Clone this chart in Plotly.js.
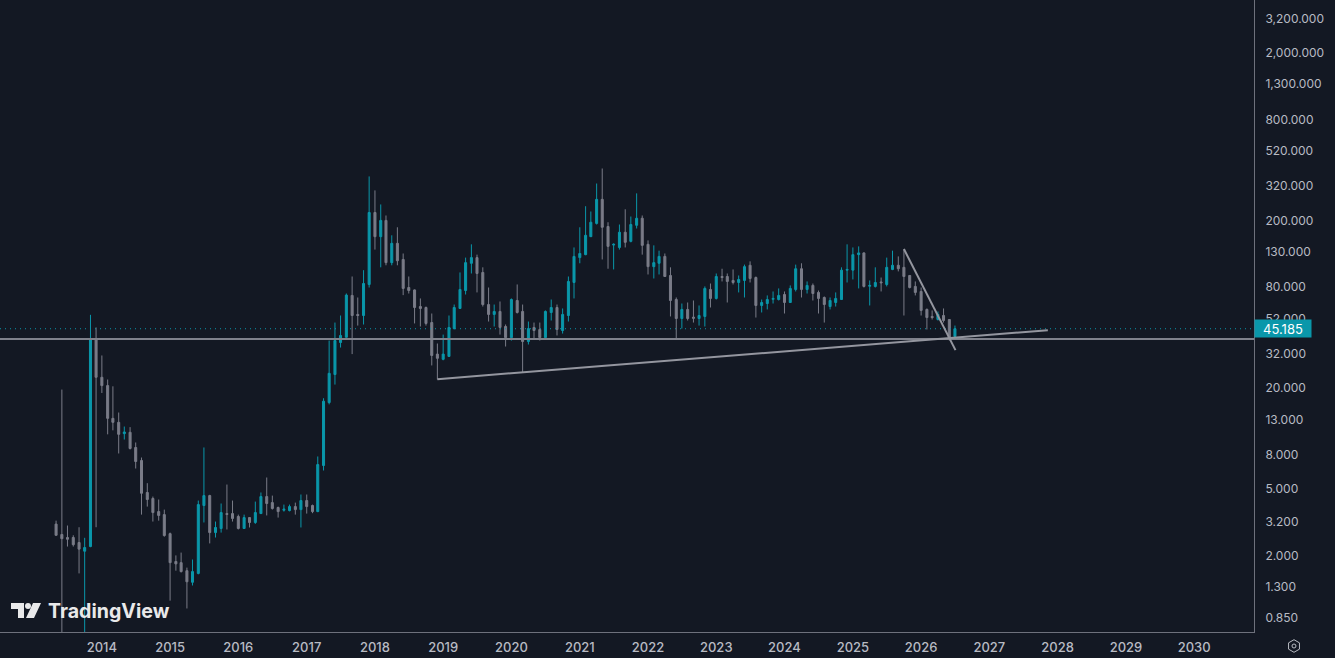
<!DOCTYPE html>
<html>
<head>
<meta charset="utf-8">
<script src="https://cdn.plot.ly/plotly-3.0.1.min.js"></script>
<style>html,body{margin:0;padding:0;background:#131823;overflow:hidden}#chart{width:1335px;height:658px}</style>
</head>
<body>
<div id="chart"></div>
<script>
// Monthly candles, May 2013 .. Jul 2026
const firstYear = 2013, firstMonth = 5;
const opens = [
 3.09,2.68,2.57,2.57,2.40,2.13,2.27,39.0,
 23.2,20.7,13.2,12.5,10.7,10.9,8.85,7.4,4.77,4.39,3.67,3.52,
 2.71,1.85,1.82,1.63,1.39,1.57,3.99,4.57,2.75,2.91,3.57,3.57,
 3.43,2.91,3.38,3.16,3.57,4.51,4.15,3.88,3.74,3.72,3.93,3.77,
 4.27,3.99,3.67,6.91,16.4,24.1,37.4,40.2,71.4,55,54.2,83,
 223,160,200,112,146,117,79.6,77,61.3,60.5,49.2,31.9,
 29.7,30.9,45.3,59.7,76.4,111,120,97.9,63,55,57.3,46.6,
 40,66.6,57.3,37.9,46,44.7,40,56.5,60.5,44.1,54.2,85.3,
 120,125,160,192,267,184,142.6,138,170,150,187,206,
 144,106,111,122,93.9,67.5,52,58.9,53,52,53.5,77.5,
 68.5,92.6,92.6,87.7,85.3,87.7,108,91.3,62.2,63.9,67.7,67.5,
 72.3,64.8,77.5,103,77.5,81.9,74.4,69.4,61.3,64.8,67.5,101,
 101,125,128,81,80.8,85.9,83,102,108,105,93.9,80.8,
 75.4,58.9,53.5,51.3,54.2,51.3,40.6];
const highs = [
 3.24,19.6,3.03,2.65,2.96,2.56,54.7,46,
 31.3,22.5,20.5,14.3,11.8,11.7,9.48,7.71,5.42,4.51,4.33,3.77,
 2.75,2.01,2.09,1.7,1.9,4.27,8.85,4.62,3.2,4.1,5.32,4.27,
 3.52,3.52,3.4,4.21,4.77,5.86,4.57,3.93,4.04,4.04,4.15,4.64,
 4.64,4.04,7.82,17.4,38.4,49.2,54.2,73.3,92.6,69.4,101,366,
 302,249,214,163,182,127,92.6,77.5,68.5,61.3,55.7,36.9,
 41.7,54.2,63,97.9,120,144,125,105,79.6,63,65.7,47.9,
 68.5,83,63,49.9,49.2,49.2,58.1,67.5,63,59.7,92.6,138,
 182,243,226,332,408,195,146,189,233,211,290,214,
 152,142,132,127,105,69.4,63.9,64.8,66.6,62.2,80.8,84.1,
 96.5,103,96.5,102,93.9,109,114,92.6,67.5,71.4,75.4,78.6,
 75.4,81.9,109,111,86.5,84.1,76.4,70.4,69.4,74.4,105,144,
 138,140,129,87.7,105,91.3,120,132,122,134,94.5,86.5,
 79.6,59.7,58.1,57.3,59.7,51.5,47.2];
const lows = [
 2.64,0.5,2.27,2.27,1.57,0.5,2.25,2.96,
 18.7,10.6,11.2,8.15,9.87,8.61,6.63,3.52,3.93,3.2,3.24,2.6,
 1.08,1.63,1.59,0.97,1.33,1.55,3.16,2.37,2.57,2.75,2.87,3.2,
 2.87,2.89,2.95,3.1,3.55,3.48,3.77,3.38,3.67,3.68,3.52,2.95,
 3.57,3.59,3.64,6.45,16,21,34.9,40,31.9,47.2,47.9,79.6,
 134,105,108,108,108,71.7,73.3,48.6,46.6,47.2,27.3,22.5,
 29.3,30.8,44.7,59.4,72.3,96.5,74.4,61.3,49.9,46.6,41.7,35.4,
 38.4,55.7,24.8,36.4,39,38.4,39,50.6,41.2,42.3,49.9,68.5,
 111,124,160,189,117,103,102,134,138,148,179,125,
 95.2,90.1,95.2,92.3,53.5,39.5,45.3,50.6,49.2,47.2,46.6,60.5,
 67.5,86.5,64.8,83,74.4,69.4,85.3,52.7,56.5,58.9,63.9,66.6,
 55.7,64.5,75.4,69.4,73.3,66.6,55.7,49.2,58.9,61.3,67.2,85.3,
 88.9,78.6,79.6,62.2,79.6,75.4,80.8,101,99.3,54.2,78.6,71.4,
 54.2,44.7,51.3,50.6,49.2,38.4,40.4];
const closes = [
 2.65,2.53,2.51,2.33,2.19,2.24,39,23.2,
 20.7,13.2,12.5,10.6,10.95,8.73,7.3,4.72,4.33,3.62,3.48,2.64,
 1.82,1.79,1.61,1.4,1.61,4.04,4.57,2.75,2.95,3.62,3.53,3.34,
 2.91,3.38,3.16,3.62,4.51,4.1,3.83,3.67,3.79,3.93,3.77,4.27,
 3.93,3.67,7,16.7,24.5,38.4,41.2,71.7,54.2,54.2,84.1,223,
 160,200,112,146,115,78.6,76.4,60.5,59.7,48.6,31.3,30.1,
 31.9,46,60.5,77.5,112,120,96.5,63,55,57.3,46,40,
 67.5,56.5,37.9,45.3,44.1,40,57.3,60.5,44.7,55,86.5,122,
 127,163,195,267,182,140,144,170,148,189,206,142,
 106,112,122,92.6,66.6,52,58.9,52,52.2,54.2,78.6,68.5,
 92.6,91.3,86.5,85.3,88.9,106,90.1,62.2,64.8,67.5,68.5,71.4,
 64.8,78.6,103,77.5,81.9,73.3,68.5,63,66.6,68.5,101,102,
 125,128,80.8,81.9,85.3,85,105,108,103,92.6,79.6,74.4,
 58.1,52.7,52.7,55,50.6,40,45.185];

const priceTicks = [3200,2000,1300,800,520,320,200,130,80,52,32,20,13,8,5,3.2,2,1.3,0.85];
const priceTickLabels = ["3,200.000","2,000.000","1,300.000","800.000","520.000","320.000","200.000","130.000","80.000","52.000","32.000","20.000","13.000","8.000","5.000","3.200","2.000","1.300","0.850"];
const yearTicks = ["2014","2015","2016","2017","2018","2019","2020","2021","2022","2023","2024","2025","2026","2027","2028","2029","2030"];

const supportLevel = 39.3;
const lastPrice = 45.185;
const risingLineX = ["2018-12-01","2027-11-10"];
const risingLineY = [22.6,44.3];
const fallingLineX = ["2025-10-01","2026-07-04"];
const fallingLineY = [135,33.7];
const xRange = ["2012-07-05","2030-11-17"];
const yRangeLog = [-0.1535,3.6155];

const months = opens.map((_, i) => {
  const t = firstMonth - 1 + i;
  const y = firstYear + Math.floor(t / 12);
  const m = t % 12 + 1;
  return y + "-" + String(m).padStart(2, "0") + "-01";
});

const UP = "#0a97aa", DOWN = "#7a7c88", BG = "#131823", AXIS = "#6e717c", TXT = "#b8bbc3";
const FONT = "Inter, Roboto, sans-serif";

const traces = [
  {type:"candlestick", x:months, open:opens, high:highs, low:lows, close:closes,
   whiskerwidth:0, hoverinfo:"skip",
   increasing:{line:{color:UP,width:1},fillcolor:UP},
   decreasing:{line:{color:DOWN,width:1},fillcolor:DOWN}},
  {type:"scatter", mode:"lines", x:xRange, y:[lastPrice,lastPrice], hoverinfo:"skip",
   line:{color:UP,width:1,dash:"1px 4px"}},
  {type:"scatter", mode:"lines", x:xRange, y:[supportLevel,supportLevel], hoverinfo:"skip",
   line:{color:"#7f818b",width:2}},
  {type:"scatter", mode:"lines", x:risingLineX, y:risingLineY, hoverinfo:"skip",
   line:{color:"#94969f",width:2}},
  {type:"scatter", mode:"lines", x:fallingLineX, y:fallingLineY, hoverinfo:"skip",
   line:{color:"#94969f",width:2}}
];

// decoration drawn in page pixels of the plot area
const PW = 1254, PH = 632;
const px = x => (x / PW).toFixed(5);
const py = y => (1 - y / PH).toFixed(5);
const poly = pts => "M" + pts.map(p => px(p[0]) + "," + py(p[1])).join("L") + "Z";
const gear = [];
for (let i = 0; i < 6; i++) {
  const a = Math.PI / 6 + i * Math.PI / 3;
  gear.push([1294 + 6.3 * Math.cos(a), 646 + 6.3 * Math.sin(a)]);
}
const LOGO = "#e9e9ea";
const shapes = [
  {type:"path", xref:"paper", yref:"paper", path:poly([[11,603],[24,603],[24,618],[18,618],[18,609],[11,609]]), fillcolor:LOGO, line:{width:0}},
  {type:"circle", xref:"paper", yref:"paper", x0:px(25), x1:px(31), y0:py(609), y1:py(603), fillcolor:LOGO, line:{width:0}},
  {type:"path", xref:"paper", yref:"paper", path:poly([[33,603],[41,603],[34,618],[26,618]]), fillcolor:LOGO, line:{width:0}},
  {type:"path", xref:"paper", yref:"paper", path:poly(gear), fillcolor:"rgba(0,0,0,0)", line:{color:TXT,width:1}},
  {type:"circle", xref:"paper", yref:"paper", x0:px(1292), x1:px(1296), y0:py(648), y1:py(644), fillcolor:"rgba(0,0,0,0)", line:{color:TXT,width:1}}
];

const layout = {
  width:1335, height:658,
  margin:{l:0,r:81,t:0,b:26,pad:0},
  paper_bgcolor:BG, plot_bgcolor:BG,
  showlegend:false, dragmode:false, boxgap:0.45,
  xaxis:{type:"date", range:xRange, rangeslider:{visible:false},
    tickmode:"array",
    tickvals:yearTicks.map(y => y + "-01-01"), ticktext:yearTicks,
    showgrid:false, zeroline:false, showline:true, linecolor:AXIS, linewidth:1,
    ticks:"outside", ticklen:3, tickcolor:"rgba(0,0,0,0)",
    tickfont:{family:FONT,size:13,weight:500,color:TXT}},
  yaxis:{type:"log", side:"right", range:yRangeLog,
    tickmode:"array", tickvals:priceTicks, ticktext:priceTickLabels,
    showgrid:false, zeroline:false, showline:true, linecolor:AXIS, linewidth:1,
    ticks:"outside", ticklen:8, tickcolor:"rgba(0,0,0,0)",
    tickfont:{family:FONT,size:12,color:TXT}},
  shapes:shapes,
  annotations:[
    {xref:"paper", yref:"y", x:1, y:Math.log10(lastPrice), xanchor:"left", yanchor:"middle",
     text:lastPrice.toFixed(3), showarrow:false, width:56, height:17, align:"center",
     bgcolor:"#0a97aa", borderpad:0, font:{family:FONT,size:13,color:"#ffffff"}},
    {xref:"paper", yref:"paper", x:px(46), y:py(611), xanchor:"left", yanchor:"middle",
     text:"<b>TradingView</b>", showarrow:false, font:{family:"Inter, Roboto, sans-serif",size:19.6,color:LOGO}}
  ]
};

Plotly.newPlot("chart", traces, layout, {displayModeBar:false, staticPlot:true});
</script>
</body>
</html>
